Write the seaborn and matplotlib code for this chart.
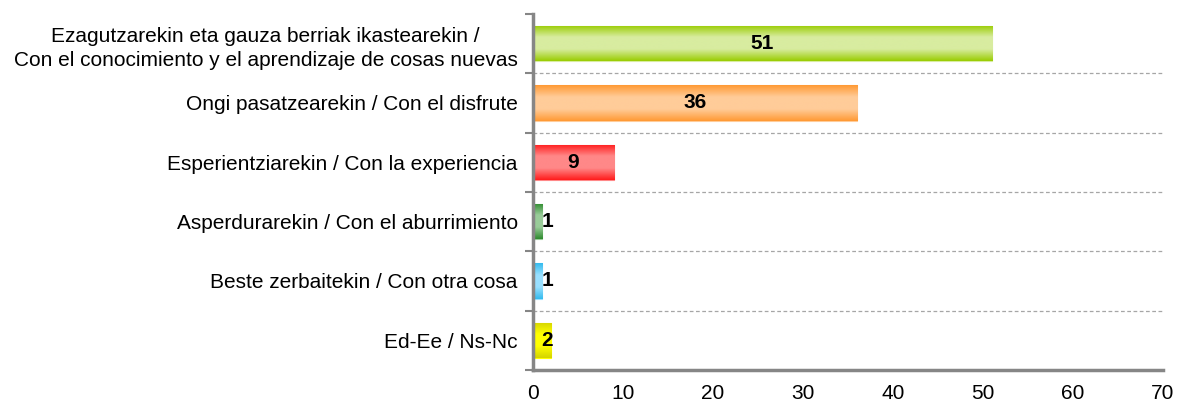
import numpy as np
import pandas as pd
import matplotlib
matplotlib.use("Agg")
import matplotlib.pyplot as plt
import seaborn as sns
from matplotlib.colors import LinearSegmentedColormap

categories = [
    "Ezagutzarekin eta gauza berriak ikastearekin /\nCon el conocimiento y el aprendizaje de cosas nuevas",
    "Ongi pasatzearekin / Con el disfrute",
    "Esperientziarekin / Con la experiencia",
    "Asperdurarekin / Con el aburrimiento",
    "Beste zerbaitekin / Con otra cosa",
    "Ed-Ee / Ns-Nc",
]
values = [51, 36, 9, 1, 1, 2]
edge_colors = ["#99CC00", "#FF9933", "#FF1A1A", "#2E8B2E", "#33BBEE", "#D4D400"]
center_colors = ["#D8ECA0", "#FFCC99", "#FF8888", "#99CC99", "#99E0FF", "#FFFF00"]
xticks = [0, 10, 20, 30, 40, 50, 60, 70]

sns.set_theme(style="white")
plt.rcParams['font.family'] = ['Liberation Sans', 'DejaVu Sans']

fig = plt.figure(figsize=(11.77, 4.03), dpi=100)
ax = fig.add_axes([0.4528, 0.0819, 0.5353, 0.8834])

df = pd.DataFrame({"cat": categories, "val": values})
sns.barplot(data=df, y="cat", x="val", hue="cat", palette=edge_colors,
            orient="h", width=0.6, legend=False, ax=ax, saturation=1)

ax.set_xlim(0, 70)
ax.set_ylim(5.5, -0.5)

# gradient fill
for patch, ec, cc in zip(ax.patches, edge_colors, center_colors):
    x0, y0 = patch.get_x(), patch.get_y()
    w, h = patch.get_width(), patch.get_height()
    cmap = LinearSegmentedColormap.from_list("g", [ec, cc, cc, ec])
    grad = np.linspace(0, 1, 256).reshape(-1, 1)
    im = ax.imshow(grad, cmap=cmap, aspect="auto",
                   extent=[x0, x0 + w, y0 + h, y0], zorder=patch.get_zorder() + 0.1)
    im.set_clip_path(patch)
    patch.set_edgecolor(cc)
    patch.set_linewidth(0.8)
ax.set_xlim(0, 70)
ax.set_ylim(5.5, -0.5)

for i, v in enumerate(values):
    x = v / 2 if v >= 5 else max(v / 2, 1.6)
    ax.text(x, i, str(v), ha="center", va="center", fontsize=15,
            fontweight="bold", color="black", zorder=5)

for b in [0.5, 1.5, 2.5, 3.5, 4.5]:
    ax.axhline(b, color="#A6A6A6", linestyle=(0, (3, 2)), linewidth=0.9, zorder=0)

ax.set_xlabel("")
ax.set_ylabel("")
ax.set_xticks(xticks)
ax.set_xticklabels([str(t) for t in xticks], fontsize=15)
ax.set_yticks(range(len(categories)))
ax.set_yticklabels(categories, fontsize=15, color="black", multialignment="center",
                   linespacing=1.35)
ax.tick_params(axis="y", length=0, pad=11)
ax.tick_params(axis="x", length=5, width=1.5, color="#868686", pad=5, labelcolor="black")

# minor ticks at category boundaries on y axis
ax.set_yticks([-0.5, 0.5, 1.5, 2.5, 3.5, 4.5, 5.5], minor=True)
ax.tick_params(axis="y", which="minor", length=6, width=1.5, color="#868686", left=True)

for s in ["top", "right"]:
    ax.spines[s].set_visible(False)
for s in ["left", "bottom"]:
    ax.spines[s].set_color("#868686")
    ax.spines[s].set_linewidth(2.5)

fig.savefig("out.png", dpi=100)
